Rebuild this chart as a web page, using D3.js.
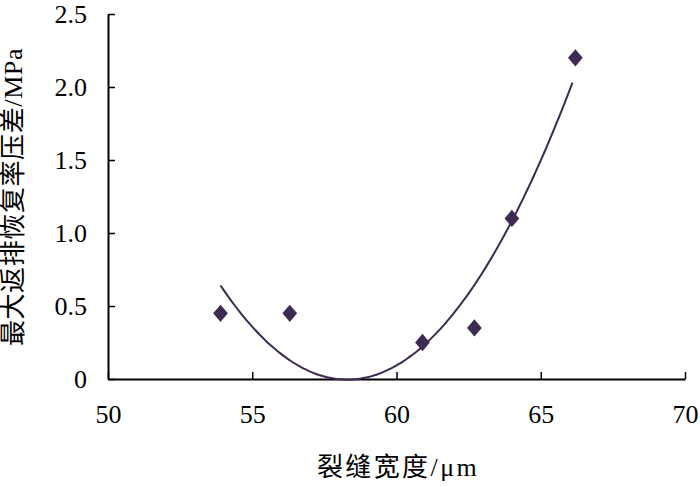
<!DOCTYPE html>
<html>
<head>
<meta charset="utf-8">
<script src="https://cdn.jsdelivr.net/npm/d3@7"></script>
<style>
  body { margin: 0; background: #fff; }
  text { font-family: "Liberation Serif", "Noto Sans CJK SC", serif; fill: #000; }
</style>
</head>
<body>
<div class="chart"></div>
<script>
// crack width (um) vs max pressure difference (MPa)
var widths = [53.9, 56.3, 60.9, 62.7, 64.0, 66.2];
var pressures = [0.45, 0.45, 0.25, 0.35, 1.1, 2.2];
var xTicks = [50, 55, 60, 65, 70];
var yTicks = [0, 0.5, 1.0, 1.5, 2.0, 2.5];

var width = 700, height = 487;
var markColor = "#3d2b52";

var svg = d3.select(".chart").append("svg")
    .attr("width", width)
    .attr("height", height);

var x = d3.scaleLinear().domain([50, 70]).range([108, 685]);
var y = d3.scaleLinear().domain([0, 2.5]).range([379, 14]);

// x axis, ticks point up
var xAxis = svg.append("g")
    .attr("transform", "translate(0," + y(0) + ")")
    .call(d3.axisTop(x).tickValues(xTicks).tickSizeInner(7).tickSizeOuter(0).tickFormat(d3.format("d")));
xAxis.select(".domain").attr("stroke-width", 2);
xAxis.selectAll(".tick line").attr("stroke-width", 1.5);
xAxis.selectAll(".tick text")
    .attr("y", 44)
    .attr("dy", 0)
    .style("font-size", "26px");

// y axis, ticks point right
var yAxis = svg.append("g")
    .attr("transform", "translate(" + x(50) + ",0)")
    .call(d3.axisRight(y).tickValues(yTicks).tickSizeInner(7).tickSizeOuter(0)
        .tickFormat(function(d) { return d === 0 ? "0" : d3.format(".1f")(d); }));
yAxis.select(".domain").attr("stroke-width", 2);
yAxis.selectAll(".tick line").attr("stroke-width", 1.5);
yAxis.selectAll(".tick text")
    .attr("x", -21)
    .attr("text-anchor", "end")
    .attr("dy", "0.34em")
    .style("font-size", "26px");

// second order polynomial trend line (least squares)
function quadFit(xs, ys) {
    var s = [0, 0, 0, 0, 0], t = [0, 0, 0];
    xs.forEach(function(v, i) {
        var u = v - 60;
        for (var k = 0; k < 5; k++) s[k] += Math.pow(u, k);
        for (var k = 0; k < 3; k++) t[k] += Math.pow(u, k) * ys[i];
    });
    var m = [[s[0], s[1], s[2], t[0]], [s[1], s[2], s[3], t[1]], [s[2], s[3], s[4], t[2]]];
    for (var i = 0; i < 3; i++) {
        for (var j = i + 1; j < 3; j++) {
            var f = m[j][i] / m[i][i];
            for (var k = i; k < 4; k++) m[j][k] -= f * m[i][k];
        }
    }
    var c = [0, 0, 0];
    for (var i = 2; i >= 0; i--) {
        var sum = m[i][3];
        for (var k = i + 1; k < 3; k++) sum -= m[i][k] * c[k];
        c[i] = sum / m[i][i];
    }
    return function(v) { var u = v - 60; return c[0] + c[1] * u + c[2] * u * u; };
}

var fit = quadFit(widths, pressures);
var curveX = d3.range(0, 101).map(function(i) {
    return widths[0] + (widths[widths.length - 1] - 0.1 - widths[0]) * i / 100;
});

var line = d3.line()
    .x(function(d) { return x(d); })
    .y(function(d) { return y(fit(d)); })
    .curve(d3.curveMonotoneX);

svg.append("path")
    .datum(curveX)
    .attr("d", line)
    .attr("fill", "none")
    .attr("stroke", markColor)
    .attr("stroke-width", 2);

// diamond markers
var diamond = d3.symbol().type(d3.symbolSquare).size(150);
svg.selectAll(".pt")
    .data(widths)
    .enter().append("path")
    .attr("class", "pt")
    .attr("d", diamond)
    .attr("fill", markColor)
    .attr("transform", function(d, i) {
        return "translate(" + x(d) + "," + y(pressures[i]) + ") scale(0.85,1) rotate(45)";
    });

// axis titles
svg.append("text")
    .attr("x", 398)
    .attr("y", 476)
    .attr("text-anchor", "middle")
    .style("font-size", "26px")
    .style("letter-spacing", "2.4px")
    .text("裂缝宽度/μm");

svg.append("text")
    .attr("transform", "translate(22,197) rotate(-90)")
    .attr("text-anchor", "middle")
    .style("font-size", "26px")
    .style("letter-spacing", "0.6px")
    .text("最大返排恢复率压差/MPa");
</script>
</body>
</html>
